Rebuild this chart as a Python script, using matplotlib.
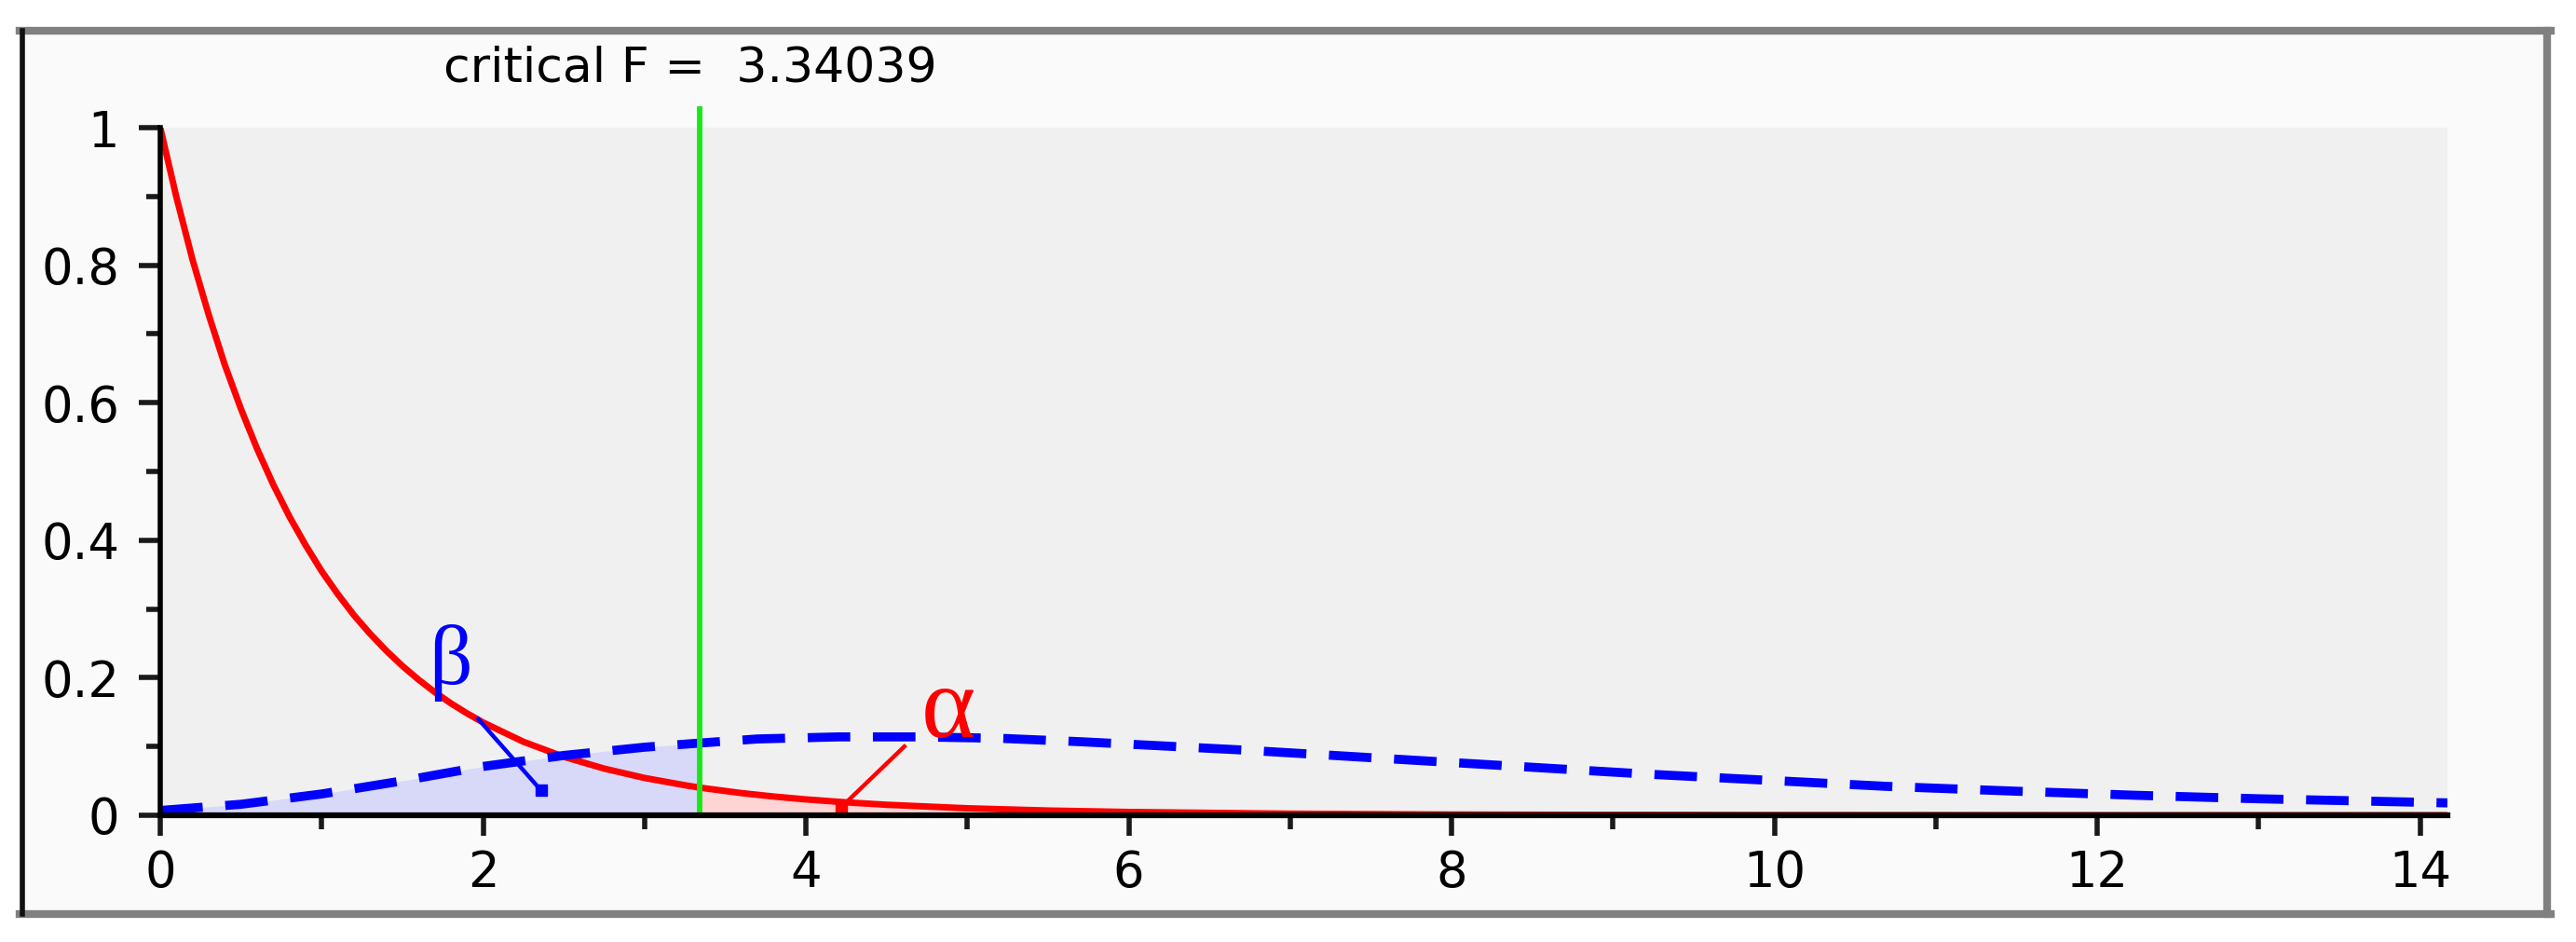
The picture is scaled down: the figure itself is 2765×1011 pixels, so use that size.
import numpy as np
import matplotlib.pyplot as plt
from matplotlib.lines import Line2D
from matplotlib.patches import Rectangle

# critical value and the two densities
crit_f = 3.34039

h0_x = [0, 0.1, 0.2, 0.3, 0.4, 0.5, 0.6, 0.7, 0.8, 0.9, 1.0, 1.1, 1.2, 1.3, 1.4,
        1.5, 1.6, 1.7, 1.8, 1.9, 2.0, 2.25, 2.5, 2.75, 3.0, 3.25, 3.34039, 3.6,
        3.8, 4.0, 4.25, 4.5, 5.0, 5.5, 6.0, 7.0, 8.0, 9.0, 10.0, 12.0, 14.17]
h0_y = [1.0, 0.899, 0.808, 0.728, 0.655, 0.591, 0.533, 0.481, 0.4345, 0.393,
        0.355, 0.3216, 0.291, 0.264, 0.2394, 0.2172, 0.1973, 0.1792, 0.1629,
        0.1483, 0.135, 0.1069, 0.0851, 0.0679, 0.0543, 0.0437, 0.0403, 0.0323,
        0.0273, 0.0231, 0.0188, 0.0153, 0.0102, 0.0069, 0.0048, 0.0023,
        0.0011, 0.0006, 0.0003, 0.0001, 0.00003]

h1_x = [0, 0.5, 1.0, 1.5, 2.0, 2.5, 3.0, 3.34039, 3.7, 4.2, 4.7, 5.2, 5.7, 6.2,
        6.7, 7.2, 7.7, 8.2, 8.7, 9.2, 9.7, 10.2, 10.7, 11.5, 12.25, 13.0, 13.6,
        14.17]
h1_y = [0.007, 0.016, 0.031, 0.050, 0.071, 0.087, 0.099, 0.105, 0.111, 0.114,
        0.114, 0.112, 0.107, 0.101, 0.095, 0.088, 0.081, 0.074, 0.067, 0.060,
        0.054, 0.048, 0.042, 0.035, 0.029, 0.024, 0.021, 0.018]

x_major = [0, 2, 4, 6, 8, 10, 12, 14]
x_minor = [1, 3, 5, 7, 9, 11, 13]
y_major = [0, 0.2, 0.4, 0.6, 0.8, 1.0]
y_labels = ['0', '0.2', '0.4', '0.6', '0.8', '1']
y_minor = [0.1, 0.3, 0.5, 0.7, 0.9]

# annotation labels and pointer lines: (text x, text y), (line start -> end)
beta_pos = (1.80, 0.222)
beta_line = ([1.97, 2.36], [0.140, 0.036])
alpha_pos = (4.88, 0.150)
alpha_line = ([4.61, 4.22], [0.100, 0.012])

W, H = 2765, 1011
plt.rcParams['font.family'] = ['DejaVu Sans']

fig = plt.figure(figsize=(W / 100, H / 100), dpi=100)
fig.patch.set_facecolor('white')

# outer panel with its border
fig.patches.append(Rectangle((21 / W, 1 - 981 / H), (2734 - 21) / W, (981 - 33) / H,
                             transform=fig.transFigure, facecolor='#fafafa',
                             edgecolor='none', zorder=-10))
gray = '#808080'
fig.lines.append(Line2D([21 / W, 2738 / W], [1 - 33 / H, 1 - 33 / H],
                        transform=fig.transFigure, color=gray, lw=6))
fig.lines.append(Line2D([21 / W, 2738 / W], [1 - 981 / H, 1 - 981 / H],
                        transform=fig.transFigure, color=gray, lw=6))
fig.lines.append(Line2D([2734 / W, 2734 / W], [1 - 33 / H, 1 - 981 / H],
                        transform=fig.transFigure, color=gray, lw=6))
fig.lines.append(Line2D([24 / W, 24 / W], [1 - 33 / H, 1 - 981 / H],
                        transform=fig.transFigure, color='#111111', lw=4))

ax = fig.add_axes([172 / W, 1 - 875 / H, (2627 - 172) / W, (875 - 137) / H])
ax.set_facecolor('#f0f0f0')
ax.set_xlim(0, 14.17)
ax.set_ylim(0, 1)

hx0, hy0 = np.array(h0_x), np.array(h0_y)
hx1, hy1 = np.array(h1_x), np.array(h1_y)

ax.fill_between(hx1, hy1, where=hx1 <= crit_f + 1e-9, color='#d8d8f8', lw=0, zorder=1)
ax.fill_between(hx0, hy0, where=hx0 >= crit_f - 1e-9, color='#ffd4d4', lw=0, zorder=1)

ax.plot(hx0, hy0, color='#ff0000', lw=5, zorder=3, solid_joinstyle='round')
ax.plot(hx1, hy1, color='#0000ff', lw=7, dashes=(4.7, 2.5), zorder=4)

ax.plot([crit_f, crit_f], [0, 1.027], color='#18e818', lw=4.2, clip_on=False, zorder=5)

ax.plot(*beta_line, color='#0000ff', lw=3.2, zorder=6)
ax.plot(beta_line[0][1], beta_line[1][1], 's', color='#0000ff', ms=8, zorder=6)
ax.plot(*alpha_line, color='#ff0000', lw=3.2, zorder=6)
ax.plot(alpha_line[0][1], alpha_line[1][1], 's', color='#ff0000', ms=8, zorder=6)

ax.text(*beta_pos, 'β', color='#0000ff', fontsize=66, ha='center', va='center',
        family=['Liberation Serif', 'DejaVu Serif'], zorder=7)
ax.text(*alpha_pos, 'α', color='#ff0000', fontsize=80, ha='center', va='center',
        family=['Liberation Serif', 'DejaVu Serif'], zorder=7)

fig.text(741 / W, 1 - 88 / H, 'critical F =  3.34039', ha='center', va='baseline',
         fontsize=37.5)

for s in ('top', 'right'):
    ax.spines[s].set_visible(False)
ax.spines['left'].set_linewidth(4)
ax.spines['bottom'].set_linewidth(4.5)
ax.spines['left'].set_zorder(8)
ax.spines['bottom'].set_zorder(8)

ax.set_xticks(x_major)
ax.set_xticks(x_minor, minor=True)
ax.set_yticks(y_major)
ax.set_yticklabels(y_labels)
ax.set_yticks(y_minor, minor=True)

ax.tick_params(axis='both', which='both', direction='out', colors='#1a1a1a',
               width=4, labelsize=38, labelcolor='black')
ax.tick_params(axis='y', which='major', length=16.5, pad=15)
ax.tick_params(axis='y', which='minor', length=11)
ax.tick_params(axis='x', which='major', length=16, pad=10)
ax.tick_params(axis='x', which='minor', length=11)

fig.savefig('out.png', dpi=100)
